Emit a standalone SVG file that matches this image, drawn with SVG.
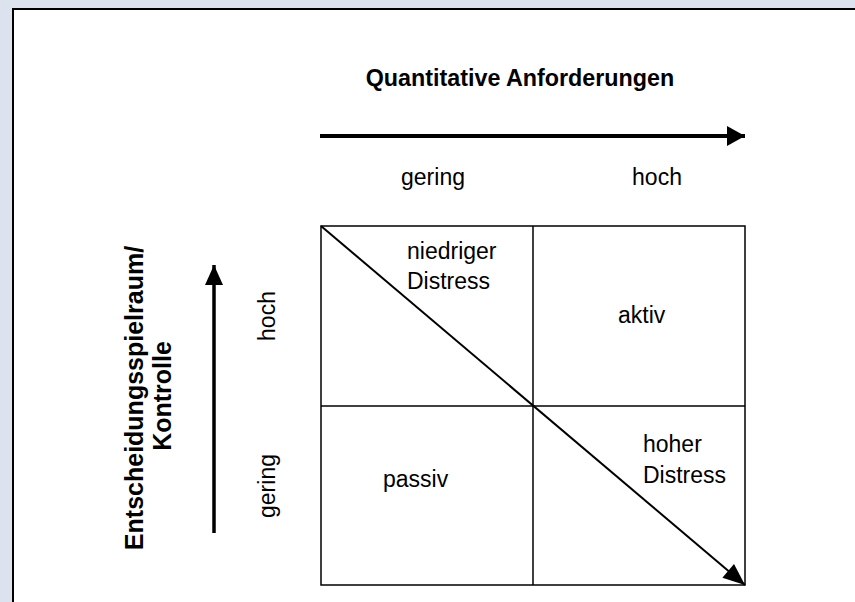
<svg xmlns="http://www.w3.org/2000/svg" width="855" height="602" viewBox="0 0 855 602">
<style>
  .t { font-family: "Liberation Sans", Arial, sans-serif; font-size: 23px; fill: #000; }
  .b { font-family: "Liberation Sans", Arial, sans-serif; font-weight: bold; fill: #000; }
  .grid { fill: none; stroke: #000; stroke-width: 1.5; }
  .conn { stroke: #000; fill: none; }
</style>
<defs>
  <marker id="headH" markerUnits="userSpaceOnUse" markerWidth="18" markerHeight="20" refX="18" refY="10" orient="auto" overflow="visible">
    <path d="M0,0 L18,10 L0,20 z" fill="#000"/>
  </marker>
  <marker id="headV" markerUnits="userSpaceOnUse" markerWidth="20" markerHeight="18" refX="20" refY="9" orient="auto" overflow="visible">
    <path d="M0,0 L20,9 L0,18 z" fill="#000"/>
  </marker>
  <marker id="headD" markerUnits="userSpaceOnUse" markerWidth="22" markerHeight="18" refX="22" refY="9" orient="auto" overflow="visible">
    <path d="M0,0 L22,9 L0,18 z" fill="#000"/>
  </marker>
</defs>
<rect x="0" y="0" width="855" height="602" fill="#dde2ef"/>
<rect x="13" y="9" width="860" height="610" fill="#fff" stroke="#000" stroke-width="2"/>

<g id="matrix">
  <rect class="grid" x="321" y="226" width="424" height="359"/>
  <line class="grid" x1="533" y1="226" x2="533" y2="585"/>
  <line class="grid" x1="321" y1="406" x2="745" y2="406"/>
</g>

<g id="connectors">
  <line class="conn" x1="320" y1="136" x2="745" y2="136" stroke-width="4" marker-end="url(#headH)"/>
  <line class="conn" x1="214" y1="533" x2="214" y2="265" stroke-width="3.5" marker-end="url(#headV)"/>
  <line class="conn" x1="321" y1="226" x2="745" y2="585" stroke-width="2" marker-end="url(#headD)"/>
</g>

<g id="title">
  <text class="b" x="520" y="86" font-size="23.3" text-anchor="middle">Quantitative Anforderungen</text>
</g>
<g id="x-labels">
  <text class="t" x="433" y="185" text-anchor="middle">gering</text>
  <text class="t" x="657" y="185" text-anchor="middle">hoch</text>
</g>
<g id="y-title">
  <text class="b" font-size="25" text-anchor="middle" transform="translate(143,398) rotate(-90)">Entscheidungsspielraum/</text>
  <text class="b" font-size="25" text-anchor="middle" transform="translate(171,396) rotate(-90)">Kontrolle</text>
</g>
<g id="y-labels">
  <text class="t" font-size="24" text-anchor="middle" transform="translate(275,316) rotate(-90)">hoch</text>
  <text class="t" font-size="24" text-anchor="middle" transform="translate(275,486) rotate(-90)">gering</text>
</g>
<g id="cell-niedriger">
  <text class="t" x="407" y="259">niedriger</text>
  <text class="t" x="407" y="289">Distress</text>
</g>
<g id="cell-aktiv">
  <text class="t" x="618" y="323">aktiv</text>
</g>
<g id="cell-passiv">
  <text class="t" x="383" y="487">passiv</text>
</g>
<g id="cell-hoher">
  <text class="t" x="643" y="452">hoher</text>
  <text class="t" x="643" y="483">Distress</text>
</g>
</svg>
